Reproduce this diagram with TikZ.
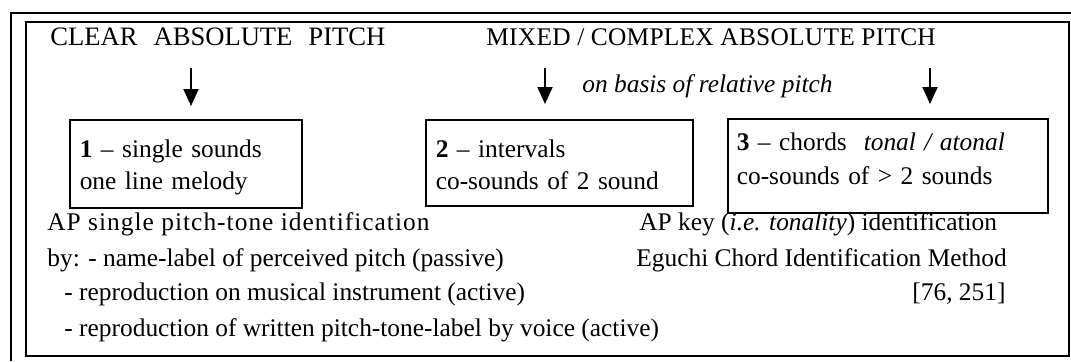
\documentclass[tikz,border=0pt]{standalone}
\usepackage{fontspec}
\setmainfont{Liberation Serif}
\usetikzlibrary{arrows.meta,positioning}
\tikzset
{
    pitchbox/.style  = {draw=black, line width=0.8pt, anchor=north west, align=left, inner ysep=0pt},
    plaintext/.style = {anchor=base west, inner sep=0pt},
    downarrow/.style = {->, line width=1pt},
    frameline/.style = {draw=black, line width=1pt}
}

\begin{document}
\begin{tikzpicture}
    [x=0.5pt, y=-0.5pt, >={Triangle[length=8.5pt,width=7.5pt]},
     font=\fontsize{12.7}{15}\selectfont]
    \useasboundingbox (0,0) rectangle (1071,361);
    % frames
    \draw [frameline] (11,361) -- (11,13) -- (1071,13);
    \draw [frameline] (26,22) rectangle (1069,356);
    % headings
    \node [plaintext, font=\fontsize{13.3}{15}\selectfont] (clear) at (50,45)
      {CLEAR\hspace{8pt}ABSOLUTE\hspace{8pt}PITCH};
    \node [plaintext] (mixed) at (486,45) {\addfontfeature{LetterSpace=1}MIXED / COMPLEX ABSOLUTE PITCH};
    \node [plaintext] (relative) at (582,92) {\itshape on basis of relative pitch};
    % arrows
    \coordinate (a1top) at (191,68);
    \coordinate (a1bot) at (191,106);
    \coordinate (a2top) at (545,68);
    \coordinate (a2bot) at (545,104);
    \coordinate (a3top) at (930,68);
    \coordinate (a3bot) at (930,104);
    \draw [downarrow] (a1top) -- (a1bot);
    \draw [downarrow] (a2top) -- (a2bot);
    \draw [downarrow] (a3top) -- (a3bot);
    % boxes
    \node [pitchbox, inner xsep=5pt, text width=106pt, text height=19pt, text depth=25pt,
           font=\fontsize{12.7}{16}\selectfont] (single) at (69,119)
      {\textbf{1} -- single sounds\\one line melody};
    \node [pitchbox, inner xsep=5pt, text width=123.5pt, text height=19pt, text depth=24pt,
           font=\fontsize{12.7}{16}\selectfont] (intervals) at (425,119)
      {\textbf{2} -- intervals\\co-sounds of 2 sound};
    \node [pitchbox, inner xsep=4.5pt, text width=151pt, text height=16pt, text depth=31pt,
           font=\fontsize{12.7}{17}\selectfont] (chords) at (727,118)
      {\textbf{3} -- chords\ \ \textit{tonal / atonal}\\co-sounds of > 2 sounds};
    % identification texts
    \node [plaintext] (apsingle) at (47,230) {\addfontfeature{LetterSpace=4}AP single pitch-tone identification};
    \node [plaintext] (byname) at (47,266) {by: - name-label of perceived pitch (passive)};
    \node [plaintext] (instrument) at (64,300) {- reproduction on musical instrument (active)};
    \node [plaintext] (voice) at (64,336) {- reproduction of written pitch-tone-label by voice (active)};
    \node [plaintext] (apkey) at (639,230) {AP key (\textit{i.e. tonality}) identification};
    \node [plaintext] (eguchi) at (636,266) {Eguchi Chord Identification Method};
    \node [plaintext] (cite) at (912,300) {[76, 251]};
\end{tikzpicture}
\end{document}
